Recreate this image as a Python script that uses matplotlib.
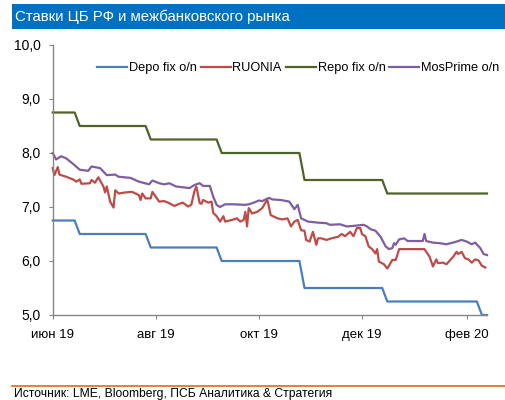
import pandas as pd
import matplotlib
matplotlib.use('Agg')
import matplotlib.pyplot as plt
from matplotlib.patches import Rectangle
from matplotlib.lines import Line2D

plt.rcParams['font.family'] = ['Liberation Sans', 'DejaVu Sans']

# CBR corridor rates: change dates and levels
depo_dates = ['2019-06-01', '2019-06-17', '2019-07-29', '2019-09-09', '2019-10-28', '2019-12-16', '2020-02-10']
depo_levels = [6.75, 6.50, 6.25, 6.00, 5.50, 5.25, 5.00]
repo_dates = ['2019-06-01', '2019-06-17', '2019-07-29', '2019-09-09', '2019-10-28', '2019-12-16']
repo_levels = [8.75, 8.50, 8.25, 8.00, 7.50, 7.25]

# RUONIA
ruonia_dates = ['2019-06-01', '2019-06-02', '2019-06-04', '2019-06-05', '2019-06-09', '2019-06-13',
                '2019-06-15', '2019-06-17', '2019-06-18', '2019-06-23', '2019-06-24', '2019-06-26',
                '2019-06-28', '2019-07-01', '2019-07-02', '2019-07-03', '2019-07-05', '2019-07-07',
                '2019-07-08', '2019-07-10', '2019-07-14', '2019-07-18', '2019-07-22', '2019-07-23',
                '2019-07-24', '2019-07-26', '2019-07-29', '2019-07-30', '2019-08-03', '2019-08-06',
                '2019-08-09', '2019-08-12', '2019-08-15', '2019-08-17', '2019-08-20', '2019-08-22',
                '2019-08-24', '2019-08-25', '2019-08-27', '2019-08-28', '2019-08-29', '2019-09-01',
                '2019-09-03', '2019-09-04', '2019-09-06', '2019-09-08', '2019-09-10', '2019-09-11',
                '2019-09-15', '2019-09-18', '2019-09-20', '2019-09-22', '2019-09-23', '2019-09-24',
                '2019-09-25', '2019-09-27', '2019-09-30', '2019-10-03', '2019-10-06', '2019-10-08',
                '2019-10-10', '2019-10-12', '2019-10-15', '2019-10-18', '2019-10-20', '2019-10-22',
                '2019-10-24', '2019-10-26', '2019-10-28', '2019-10-29', '2019-10-31', '2019-11-02',
                '2019-11-04', '2019-11-05', '2019-11-07', '2019-11-10', '2019-11-13', '2019-11-17',
                '2019-11-19', '2019-11-21', '2019-11-24', '2019-11-26', '2019-11-28', '2019-11-30',
                '2019-12-01', '2019-12-03', '2019-12-05', '2019-12-07', '2019-12-09', '2019-12-10',
                '2019-12-11', '2019-12-14', '2019-12-16', '2019-12-19', '2019-12-21', '2019-12-23',
                '2020-01-07', '2020-01-10', '2020-01-12', '2020-01-14', '2020-01-15', '2020-01-18',
                '2020-01-20', '2020-01-22', '2020-01-24', '2020-01-26', '2020-01-27', '2020-01-29',
                '2020-01-31', '2020-02-02', '2020-02-04', '2020-02-06', '2020-02-08', '2020-02-10',
                '2020-02-12']
ruonia = [7.72, 7.59, 7.74, 7.60, 7.56, 7.51,
          7.47, 7.51, 7.43, 7.44, 7.50, 7.45,
          7.55, 7.38, 7.27, 7.38, 7.10, 6.99,
          7.31, 7.25, 7.27, 7.28, 7.22, 7.13,
          7.25, 7.16, 7.16, 7.28, 7.10, 7.11,
          7.07, 7.02, 7.06, 7.08, 7.01, 7.04,
          7.31, 7.38, 7.07, 7.06, 7.13, 7.08,
          7.10, 6.89, 6.83, 6.73, 6.83, 6.73,
          6.76, 6.79, 6.73, 6.76, 6.91, 6.64,
          6.98, 6.88, 6.91, 6.98, 7.14, 6.85,
          6.82, 6.79, 6.77, 6.79, 6.64, 6.73,
          6.76, 6.57, 6.56, 6.39, 6.36, 6.54,
          6.30, 6.42, 6.42, 6.39, 6.42, 6.45,
          6.50, 6.46, 6.54, 6.46, 6.61, 6.61,
          6.50, 6.46, 6.27, 6.22, 6.14, 6.22,
          5.99, 5.94, 5.86, 6.02, 6.02, 6.22,
          6.22, 6.08, 5.90, 6.03, 5.96, 5.97,
          5.94, 6.01, 6.08, 6.17, 6.13, 6.17,
          6.05, 6.03, 5.97, 6.03, 6.01, 5.91,
          5.88]

# MosPrime o/n
mosprime_dates = ['2019-06-01', '2019-06-03', '2019-06-06', '2019-06-09', '2019-06-13', '2019-06-17',
                  '2019-06-22', '2019-06-24', '2019-06-29', '2019-07-03', '2019-07-08', '2019-07-10',
                  '2019-07-17', '2019-07-22', '2019-07-28', '2019-07-30', '2019-08-03', '2019-08-06',
                  '2019-08-09', '2019-08-13', '2019-08-21', '2019-08-24', '2019-08-27', '2019-08-29',
                  '2019-09-02', '2019-09-04', '2019-09-06', '2019-09-08', '2019-09-11', '2019-09-16',
                  '2019-09-23', '2019-09-25', '2019-09-28', '2019-10-01', '2019-10-03', '2019-10-07',
                  '2019-10-09', '2019-10-14', '2019-10-19', '2019-10-22', '2019-10-24', '2019-10-26',
                  '2019-10-30', '2019-11-05', '2019-11-10', '2019-11-12', '2019-11-18', '2019-11-22',
                  '2019-11-26', '2019-12-02', '2019-12-04', '2019-12-06', '2019-12-09', '2019-12-12',
                  '2019-12-15', '2019-12-17', '2019-12-19', '2019-12-20', '2019-12-21', '2019-12-23',
                  '2019-12-26', '2019-12-28', '2020-01-02', '2020-01-06', '2020-01-07', '2020-01-08',
                  '2020-01-12', '2020-01-16', '2020-01-20', '2020-01-25', '2020-01-29', '2020-02-01',
                  '2020-02-04', '2020-02-06', '2020-02-09', '2020-02-11', '2020-02-13']
mosprime = [8.00, 7.88, 7.94, 7.90, 7.80, 7.69,
            7.67, 7.75, 7.72, 7.59, 7.60, 7.56,
            7.54, 7.47, 7.42, 7.49, 7.44, 7.42,
            7.44, 7.38, 7.35, 7.41, 7.44, 7.39,
            7.39, 7.19, 7.04, 7.00, 7.05, 7.05,
            7.04, 7.05, 7.08, 7.12, 7.11, 7.17,
            7.14, 7.13, 7.10, 6.96, 7.04, 6.79,
            6.73, 6.71, 6.70, 6.67, 6.68, 6.64,
            6.65, 6.67, 6.64, 6.59, 6.56, 6.45,
            6.27, 6.22, 6.24, 6.33, 6.30, 6.40,
            6.42, 6.37, 6.37, 6.37, 6.50, 6.37,
            6.34, 6.33, 6.31, 6.35, 6.39, 6.36,
            6.31, 6.34, 6.24, 6.13, 6.11]

month_ticks = ['2019-06-01', '2019-08-01', '2019-10-01', '2019-12-01', '2020-02-01']
month_labels = ['июн 19', 'авг 19', 'окт 19', 'дек 19', 'фев 20']

days = pd.bdate_range('2019-06-03', '2020-02-13').insert(0, pd.Timestamp('2019-06-01'))
depo = pd.Series(depo_levels, index=pd.to_datetime(depo_dates)).reindex(days, method='ffill')
repo = pd.Series(repo_levels, index=pd.to_datetime(repo_dates)).reindex(days, method='ffill')

fig = plt.figure(figsize=(5.06, 4.0), dpi=100)
ax = fig.add_axes([52.7 / 506, 1 - 315 / 400, (487 - 52.7) / 506, 270 / 400])

lw = 1.6
ax.plot(depo.index, depo.values, color='#4A7EBB', lw=lw, label='Depo fix o/n', clip_on=False)
ax.plot(pd.to_datetime(ruonia_dates), ruonia, color='#BE4B48', lw=lw, label='RUONIA', clip_on=False)
ax.plot(repo.index, repo.values, color='#4F6228', lw=lw, label='Repo fix o/n', clip_on=False)
ax.plot(pd.to_datetime(mosprime_dates), mosprime, color='#7D5FA0', lw=lw, label='MosPrime o/n', clip_on=False)

ax.set_xlim(pd.Timestamp('2019-06-01'), pd.Timestamp('2020-02-13'))
ax.set_ylim(5, 10)
ax.set_yticks([5, 6, 7, 8, 9, 10])
ax.set_yticklabels([f'{v:.1f}'.replace('.', ',') for v in [5, 6, 7, 8, 9, 10]])
ax.set_xticks(pd.to_datetime(month_ticks))
ax.set_xticklabels(month_labels)

for side in ['top', 'right']:
    ax.spines[side].set_visible(False)
for side in ['left', 'bottom']:
    ax.spines[side].set_color('#868686')
    ax.spines[side].set_linewidth(1.0)
ax.tick_params(axis='y', length=3, color='#868686', labelsize=10, pad=5.5)
ax.tick_params(axis='x', length=3, color='#868686', labelsize=9.5, pad=7)

ax.legend(loc='upper left', bbox_to_anchor=(0.09, 0.955), ncol=4, frameon=False,
          fontsize=9.2, handlelength=2.35, handletextpad=0.15, columnspacing=0.3,
          borderaxespad=0)

# header bar and footer
fig.add_artist(Rectangle((12 / 506, 1 - 29 / 400), 1, 25 / 400, transform=fig.transFigure,
                         facecolor='#0070C0', edgecolor='none'))
fig.text(15 / 506, 1 - 17 / 400, 'Ставки ЦБ РФ и межбанковского рынка', color='white',
         fontsize=10.8, va='center', ha='left')
fig.add_artist(Line2D([12 / 506, 1], [1 - 386 / 400] * 2, color='#E36C0A', lw=1.2,
                      transform=fig.transFigure))
fig.text(14 / 506, 1 - 394 / 400, 'Источник: LME, Bloomberg, ПСБ Аналитика & Стратегия',
         fontsize=8.7, va='center', ha='left')

plt.savefig('out.png', dpi=100)
